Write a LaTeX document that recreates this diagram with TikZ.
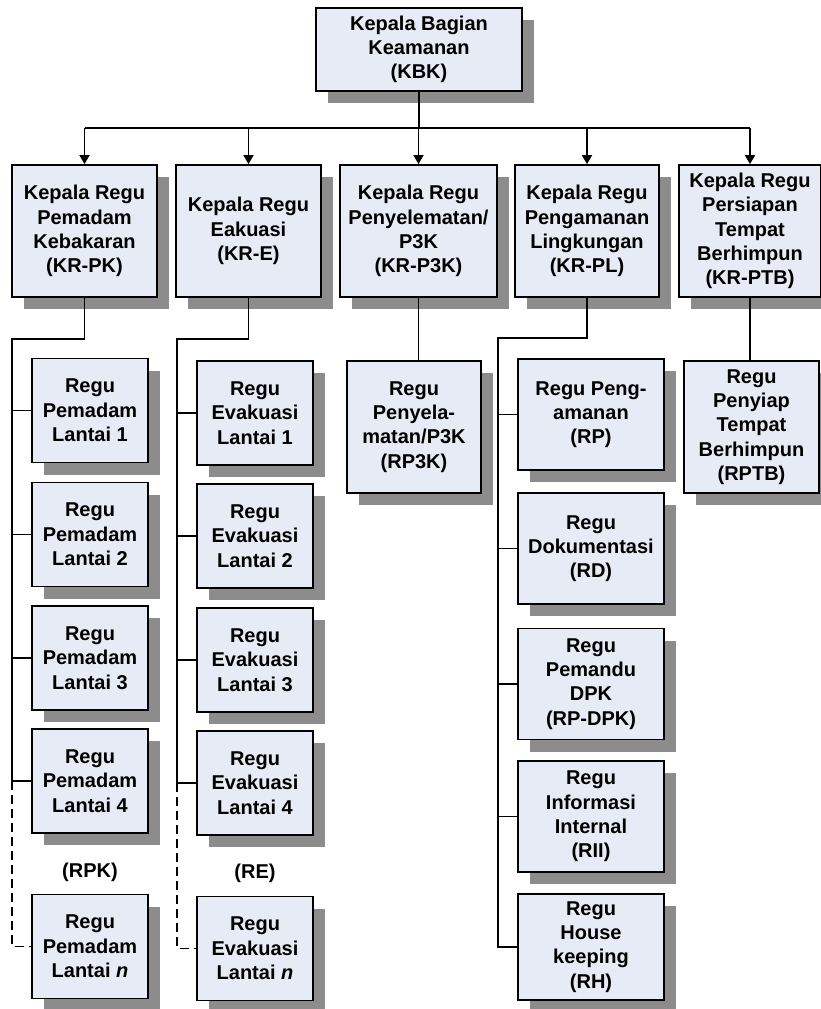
\documentclass[tikz,border=0pt]{standalone}
\usepackage{fontspec}
\setmainfont{Liberation Sans}
\usepackage{tikz}
\usetikzlibrary{shadows}
\usetikzlibrary{arrows.meta}
\definecolor{boxfill}{HTML}{E7EBF6}
\tikzset{
  kotak/.style={draw=black, line width=1.8pt, fill=boxfill, align=center, inner sep=0pt,
    font=\bfseries\fontsize{20}{24.3}\selectfont,
    drop shadow={shadow xshift=12pt, shadow yshift=-12pt, fill=black!45, opacity=1}},
  conn/.style={line width=1.7pt, black},
  putus/.style={conn, dash pattern=on 9pt off 5pt},
  panah/.style={conn, -{Triangle[width=10pt,length=9pt]}},
  lbltext/.style={font=\bfseries\fontsize{20}{24.3}\selectfont, inner sep=0pt}
}
\newcommand{\kotak}[6]{\node[kotak, minimum width=#4pt, minimum height=#5pt] (#1) at ( #2 , #3 ) {#6};}
\newcommand{\cabang}[2]{\draw[conn] (#1 |- #2.west) -- (#2.west);}
\begin{document}
\begin{tikzpicture}[x=1pt,y=-1pt]
        \useasboundingbox (0,0) rectangle (821,1009);
        \kotak{kbk}{419}{49.5}{206}{83}{Kepala Bagian\\Keamanan\\(KBK)}
        \kotak{krpk}{84.5}{231}{145}{132}{Kepala Regu\\Pemadam\\Kebakaran\\(KR-PK)}
        \kotak{kre}{248.5}{231}{145}{132}{Kepala Regu\\Eakuasi\\(KR-E)}
        \kotak{krp3k}{418.5}{231}{157}{132}{Kepala Regu\\Penyelematan/\\P3K\\(KR-P3K)}
        \kotak{krpl}{587}{231}{144}{132}{Kepala Regu\\Pengamanan\\Lingkungan\\(KR-PL)}
        \kotak{krptb}{750}{231}{142}{132}{Kepala Regu\\Persiapan\\Tempat\\Berhimpun\\(KR-PTB)}
        \kotak{pk1}{90}{410.5}{116}{104}{Regu\\Pemadam\\Lantai 1}
        \kotak{pk2}{90}{534.5}{116}{104}{Regu\\Pemadam\\Lantai 2}
        \kotak{pk3}{90}{658}{116}{104}{Regu\\Pemadam\\Lantai 3}
        \kotak{pk4}{90}{781}{116}{104}{Regu\\Pemadam\\Lantai 4}
        \kotak{pkn}{90}{946.5}{116}{104}{Regu\\Pemadam\\Lantai \textit{n}}
        \kotak{re1}{255}{413}{116}{104}{Regu\\Evakuasi\\Lantai 1}
        \kotak{re2}{255}{536}{116}{104}{Regu\\Evakuasi\\Lantai 2}
        \kotak{re3}{255}{660}{116}{104}{Regu\\Evakuasi\\Lantai 3}
        \kotak{re4}{255}{783}{116}{104}{Regu\\Evakuasi\\Lantai 4}
        \kotak{ren}{255}{948.5}{116}{104}{Regu\\Evakuasi\\Lantai \textit{n}}
        \kotak{rp3k}{414}{427}{134}{132}{Regu\\Penyela-\\matan/P3K\\(RP3K)}
        \kotak{rp}{591}{414.5}{146}{111}{Regu Peng-\\amanan\\(RP)}
        \kotak{rd}{591}{548.5}{146}{111}{Regu\\Dokumentasi\\(RD)}
        \kotak{rpdpk}{591}{684}{146}{111}{Regu\\Pemandu\\DPK\\(RP-DPK)}
        \kotak{rii}{591}{816.5}{146}{111}{Regu\\Informasi\\Internal\\(RII)}
        \kotak{rh}{591}{947}{146}{106}{Regu\\House\\keeping\\(RH)}
        \kotak{rptb}{751.5}{427}{135}{132}{Regu\\Penyiap\\Tempat\\Berhimpun\\(RPTB)}
        \node[lbltext] (lblrpk) at (90,872) {(RPK)};
        \node[lbltext] (lblre) at (255,873) {(RE)};
        \coordinate (bus) at (419,128);
        \coordinate (pkbus) at (12,339);
        \coordinate (rebus) at (177,339);
        \coordinate (plbus) at (498,338);
        \draw[conn] (kbk.south) -- (bus);
        \draw[conn] (krpk.north |- bus) -- (krptb.north |- bus);
        \foreach \n in {krpk,kre,krp3k,krpl,krptb}
          \draw[panah] (\n.north |- bus) -- (\n.north);
        \draw[conn] (krpk.south) |- (pkbus) -- (pkbus |- pk4.west) -- (pk4.west);
        \foreach \n in {pk1,pk2,pk3} \cabang{pkbus}{\n}
        \draw[putus] (pkbus |- pk4.west) -- (pkbus |- pkn.west) -- (pkn.west);
        \draw[conn] (kre.south) |- (rebus) -- (rebus |- re4.west) -- (re4.west);
        \foreach \n in {re1,re2,re3} \cabang{rebus}{\n}
        \draw[putus] (rebus |- re4.west) -- (rebus |- ren.west) -- (ren.west);
        \draw[conn] (krp3k.south) -- (krp3k.south |- rp3k.north);
        \draw[conn] (krpl.south) |- (plbus) -- (plbus |- rh.west) -- (rh.west);
        \foreach \n in {rp,rd,rpdpk,rii} \cabang{plbus}{\n}
        \draw[conn] (krptb.south) -- (krptb.south |- rptb.north);
    \end{tikzpicture}
\end{document}
